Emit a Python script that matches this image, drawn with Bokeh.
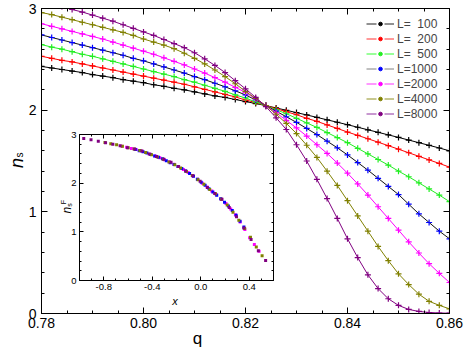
import math
from bokeh.plotting import figure
from bokeh.models import (Range1d, FixedTicker, LinearAxis, Legend, LegendItem,
                          Label, PrintfTickFormatter, CustomJSTickFormatter)
from bokeh.layouts import column
from bokeh.embed import file_html
from bokeh.resources import INLINE

# ---------------- data ----------------
q = [0.780, 0.782, 0.784, 0.786, 0.788, 0.790, 0.792, 0.794, 0.796, 0.798,
     0.800, 0.802, 0.804, 0.806, 0.808, 0.810, 0.812, 0.814, 0.816, 0.818,
     0.820, 0.822, 0.824, 0.826, 0.828, 0.830, 0.832, 0.834, 0.836, 0.838,
     0.840, 0.842, 0.844, 0.846, 0.848, 0.850, 0.852, 0.854, 0.856, 0.858, 0.860]

n_L100 = [2.43, 2.415, 2.40, 2.385, 2.37, 2.35, 2.335, 2.32, 2.30, 2.285,
          2.27, 2.25, 2.235, 2.215, 2.20, 2.18, 2.16, 2.14, 2.125, 2.105,
          2.085, 2.065, 2.045, 2.022, 1.999, 1.976, 1.953, 1.929, 1.905, 1.881,
          1.857, 1.832, 1.807, 1.782, 1.757, 1.732, 1.706, 1.68, 1.654, 1.628, 1.60]
n_L200 = [2.53, 2.51, 2.49, 2.475, 2.455, 2.435, 2.415, 2.395, 2.375, 2.355,
          2.335, 2.315, 2.295, 2.275, 2.255, 2.23, 2.205, 2.18, 2.155, 2.13,
          2.10, 2.075, 2.045, 2.015, 1.985, 1.955, 1.92, 1.89, 1.855, 1.82,
          1.785, 1.752, 1.719, 1.685, 1.651, 1.616, 1.581, 1.546, 1.511, 1.476, 1.44]
n_L500 = [2.645, 2.62, 2.60, 2.575, 2.55, 2.53, 2.505, 2.48, 2.455, 2.43,
          2.405, 2.38, 2.355, 2.33, 2.30, 2.275, 2.245, 2.215, 2.185, 2.15,
          2.12, 2.08, 2.045, 2.005, 1.965, 1.92, 1.875, 1.83, 1.78, 1.73,
          1.68, 1.625, 1.57, 1.515, 1.46, 1.40, 1.345, 1.285, 1.225, 1.165, 1.10]
n_L1000 = [2.74, 2.715, 2.69, 2.665, 2.64, 2.615, 2.59, 2.565, 2.54, 2.51,
           2.485, 2.455, 2.425, 2.395, 2.365, 2.33, 2.30, 2.265, 2.23, 2.19,
           2.15, 2.10, 2.045, 1.99, 1.935, 1.88, 1.82, 1.76, 1.695, 1.63,
           1.56, 1.485, 1.41, 1.33, 1.25, 1.17, 1.075, 0.98, 0.895, 0.81, 0.735]
n_L2000 = [2.85, 2.825, 2.80, 2.775, 2.75, 2.725, 2.70, 2.67, 2.64, 2.61,
           2.58, 2.55, 2.515, 2.48, 2.445, 2.405, 2.365, 2.32, 2.275, 2.225,
           2.175, 2.11, 2.045, 1.975, 1.90, 1.825, 1.745, 1.66, 1.575, 1.48,
           1.38, 1.275, 1.165, 1.05, 0.935, 0.82, 0.705, 0.595, 0.49, 0.395, 0.305]
n_L4000 = [2.96, 2.94, 2.915, 2.89, 2.865, 2.84, 2.815, 2.79, 2.765, 2.735,
           2.70, 2.67, 2.64, 2.605, 2.56, 2.51, 2.455, 2.395, 2.33, 2.26,
           2.185, 2.115, 2.045, 1.96, 1.87, 1.77, 1.655, 1.535, 1.40, 1.26,
           1.11, 0.96, 0.81, 0.66, 0.52, 0.39, 0.285, 0.19, 0.12, 0.08, 0.046]
n_L8000 = [3.07, 3.045, 3.02, 2.99, 2.965, 2.935, 2.905, 2.875, 2.84, 2.805,
           2.77, 2.735, 2.695, 2.655, 2.615, 2.565, 2.505, 2.44, 2.37, 2.29,
           2.21, 2.125, 2.035, 1.925, 1.81, 1.66, 1.50, 1.32, 1.13, 0.935,
           0.735, 0.55, 0.38, 0.245, 0.145, 0.08, 0.04, 0.02, 0.01, 0.005, 0.003]

labels = ["L=\u00a0\u00a0100", "L=\u00a0\u00a0200", "L=\u00a0\u00a0500",
          "L=1000", "L=2000", "L=4000", "L=8000"]

# inset: scaling collapse n_s^F versus x
ix_L1000 = [-0.54, -0.508, -0.476, -0.444, -0.412, -0.38, -0.348, -0.316, -0.284, -0.252,
            -0.22, -0.188, -0.156, -0.124, -0.092, -0.06, -0.028, 0.004, 0.036, 0.068,
            0.10, 0.132, 0.164, 0.196, 0.228, 0.26, 0.292, 0.324, 0.356]
iy_L1000 = [2.69, 2.665, 2.645, 2.62, 2.59, 2.56, 2.53, 2.50, 2.46, 2.42,
            2.385, 2.345, 2.30, 2.25, 2.20, 2.14, 2.08, 2.02, 1.955, 1.885,
            1.82, 1.75, 1.68, 1.61, 1.53, 1.44, 1.34, 1.22, 1.10]
ix_L2000 = [-0.65, -0.611, -0.572, -0.533, -0.494, -0.455, -0.416, -0.377, -0.338, -0.299,
            -0.26, -0.221, -0.182, -0.143, -0.104, -0.065, -0.026, 0.013, 0.052, 0.091,
            0.13, 0.169, 0.208, 0.247, 0.286, 0.325, 0.364, 0.403, 0.442, 0.481]
iy_L2000 = [2.76, 2.74, 2.71, 2.69, 2.665, 2.63, 2.595, 2.56, 2.52, 2.48,
            2.44, 2.39, 2.34, 2.28, 2.22, 2.15, 2.08, 2.00, 1.92, 1.84,
            1.76, 1.67, 1.58, 1.47, 1.35, 1.20, 1.05, 0.88, 0.74, 0.60]
ix_L4000 = [-0.79, -0.742, -0.694, -0.646, -0.598, -0.55, -0.502, -0.454, -0.406, -0.358,
            -0.31, -0.262, -0.214, -0.166, -0.118, -0.07, -0.022, 0.026, 0.074, 0.122,
            0.17, 0.218, 0.266, 0.314, 0.362, 0.41, 0.458, 0.506]
iy_L4000 = [2.835, 2.81, 2.79, 2.76, 2.73, 2.70, 2.67, 2.63, 2.585, 2.54,
            2.49, 2.435, 2.38, 2.31, 2.24, 2.16, 2.07, 1.98, 1.87, 1.78,
            1.67, 1.55, 1.40, 1.24, 1.07, 0.89, 0.69, 0.51]
ix_L8000 = [-0.965, -0.905, -0.845, -0.785, -0.725, -0.665, -0.605, -0.545, -0.485, -0.425,
            -0.365, -0.305, -0.245, -0.185, -0.125, -0.065, -0.005, 0.055, 0.115, 0.175,
            0.235, 0.295, 0.355, 0.415, 0.475, 0.535]
iy_L8000 = [2.92, 2.89, 2.86, 2.83, 2.80, 2.77, 2.73, 2.70, 2.66, 2.60,
            2.55, 2.49, 2.43, 2.34, 2.25, 2.15, 2.04, 1.91, 1.79, 1.67,
            1.50, 1.31, 1.08, 0.84, 0.61, 0.41]

x_ticks = [0.78, 0.80, 0.82, 0.84, 0.86]
x_minor = [0.785, 0.79, 0.795, 0.805, 0.81, 0.815, 0.825, 0.83, 0.835, 0.845, 0.85, 0.855]
y_ticks = [0, 1, 2, 3]
y_minor = [0.2, 0.4, 0.6, 0.8, 1.2, 1.4, 1.6, 1.8, 2.2, 2.4, 2.6, 2.8]
ix_ticks = [-0.8, -0.4, 0.0, 0.4]
ix_minor = [-0.9, -0.7, -0.6, -0.5, -0.3, -0.2, -0.1, 0.1, 0.2, 0.3, 0.5]

FONT = "Liberation Sans"
W, H = 464, 348

# ---------------- helpers ----------------
def style_axis(ax, ticks, minor, fmt, fsize, tin, tmin, standoff, show=True):
    ax.ticker = FixedTicker(ticks=ticks, minor_ticks=minor)
    if show:
        ax.formatter = PrintfTickFormatter(format=fmt)
    else:
        ax.formatter = CustomJSTickFormatter(code="return ''")
    ax.major_tick_in = tin
    ax.major_tick_out = 0
    ax.minor_tick_in = tmin
    ax.minor_tick_out = 0
    ax.axis_line_color = "black"
    ax.major_tick_line_color = "black"
    ax.minor_tick_line_color = "black"
    ax.major_label_text_font = FONT
    ax.major_label_text_color = "black"
    ax.major_label_text_font_size = fsize
    ax.major_label_standoff = standoff if show else 0
    ax.axis_label = None


# ---------------- main figure ----------------
p = figure(width=W, height=H, x_range=Range1d(0.78, 0.86), y_range=Range1d(0, 3),
           output_backend="svg", toolbar_location=None, title=None,
           min_border_left=41, min_border_right=15, min_border_top=8, min_border_bottom=35)
p.frame_align = False
p.xgrid.visible = False
p.ygrid.visible = False
p.outline_line_color = "black"
p.background_fill_color = "white"
p.border_fill_color = "white"

style_axis(p.xaxis[0], x_ticks, x_minor, "%.2f", "14px", 6, 3, 4)
style_axis(p.yaxis[0], y_ticks, y_minor, "%.0f", "14px", 6, 3, 5)
ax_top = LinearAxis()
style_axis(ax_top, x_ticks, x_minor, "%.2f", "14px", 6, 3, 0, show=False)
p.add_layout(ax_top, "above")
ax_right = LinearAxis()
style_axis(ax_right, y_ticks, y_minor, "%.0f", "14px", 6, 3, 0, show=False)
p.add_layout(ax_right, "right")

series = [n_L100, n_L200, n_L500, n_L1000, n_L2000, n_L4000, n_L8000]
line_cols = ["black", "#ff0000", "#22ee22", "#111111", "#ff00ff", "#808000", "#800080"]
mark_cols = ["black", "#ff0000", "#22ee22", "#0000ff", "#ff00ff", "#808000", "#800080"]
leg_cols = ["#222222", "#ff3333", "#33ff33", "#808080", "#ff33ff", "#909020", "#9030a0"]

for ys, lc, mc in zip(series, line_cols, mark_cols):
    p.line(q, ys, line_color=lc, line_width=1)
    p.scatter(q, ys, marker="cross", size=6, line_color=mc, line_width=1.2)

# legend glyphs (off-view point so nothing shows in the frame)
items = []
for lab_, lc, mc in zip(labels, leg_cols, mark_cols):
    r1 = p.line([0.5, 0.51], [-10, -10], line_color=lc, line_width=1, line_dash="10 8")
    r2 = p.scatter([0.5], [-10], marker="circle", size=4, fill_color=mc, line_color=mc)
    items.append(LegendItem(label=lab_, renderers=[r1, r2]))
legend = Legend(items=items, location="top_right", border_line_alpha=0,
                background_fill_alpha=0, label_text_font=FONT,
                label_text_font_size="12px", glyph_width=28, glyph_height=9,
                label_height=15, label_width=44, spacing=0, label_standoff=3,
                padding=4, margin=4)
p.add_layout(legend)

# ---------------- inset figure ----------------
inset = figure(width=234, height=177, x_range=Range1d(-1.0, 0.6), y_range=Range1d(0, 3),
               output_backend="svg", toolbar_location=None, title=None,
               min_border_left=30, min_border_right=10, min_border_top=5, min_border_bottom=26)
inset.frame_align = False
inset.xgrid.visible = False
inset.ygrid.visible = False
inset.outline_line_color = "black"
inset.background_fill_color = "white"
inset.border_fill_color = None
inset.border_fill_alpha = 0
style_axis(inset.xaxis[0], ix_ticks, ix_minor, "%.1f", "9.5px", 4, 2, 3)
style_axis(inset.yaxis[0], y_ticks, y_minor, "%.0f", "9.5px", 4, 2, 3)
iax_top = LinearAxis()
style_axis(iax_top, ix_ticks, ix_minor, "%.1f", "9.5px", 4, 2, 0, show=False)
inset.add_layout(iax_top, "above")
iax_right = LinearAxis()
style_axis(iax_right, y_ticks, y_minor, "%.0f", "9.5px", 4, 2, 0, show=False)
inset.add_layout(iax_right, "right")

for xs, ys, c in [(ix_L2000, iy_L2000, "#ff00ff"), (ix_L1000, iy_L1000, "#0000ff"),
                  (ix_L4000, iy_L4000, "#808000"), (ix_L8000, iy_L8000, "#800080")]:
    inset.scatter(xs, ys, marker="square", size=3, fill_color=c, line_color=None)

inset.styles = {"position": "absolute", "left": "49px", "top": "129px"}

# ---------------- overlay for the axis titles (page pixel coordinates) ----------------
ov = figure(width=W, height=H, x_range=Range1d(0, W), y_range=Range1d(H, 0),
            output_backend="svg", toolbar_location=None, title=None,
            x_axis_type=None, y_axis_type=None,
            min_border=0, min_border_left=0, min_border_right=0,
            min_border_top=0, min_border_bottom=0)
ov.frame_align = False
ov.xgrid.visible = False
ov.ygrid.visible = False
ov.outline_line_color = None
ov.background_fill_alpha = 0
ov.border_fill_alpha = 0
ov.styles = {"position": "absolute", "left": "0px", "top": "0px", "pointer-events": "none"}

def lab(x, y, text, size, italic=False, angle=0.0, baseline="alphabetic"):
    ov.add_layout(Label(x=x, y=y, text=text, text_font=FONT, text_font_size=size,
                        text_font_style="italic" if italic else "normal",
                        angle=angle, text_align="center", text_baseline=baseline,
                        text_color="black"))

lab(197, 338, "q", "17px")
lab(16.7, 162.5, "n", "18px", italic=True, angle=math.pi / 2)
lab(19.3, 154.5, "s", "10px", angle=math.pi / 2)
lab(174.5, 300, "x", "11px", italic=True)
lab(66.2, 209.7, "n", "12px", italic=True, angle=math.pi / 2)
lab(68.6, 204.5, "s", "7px", angle=math.pi / 2)
lab(63.3, 201.5, "F", "7px", angle=math.pi / 2)

layout = column(p, inset, ov)
layout.styles = {"position": "relative"}

open("out.html", "w").write(file_html(layout, INLINE))
